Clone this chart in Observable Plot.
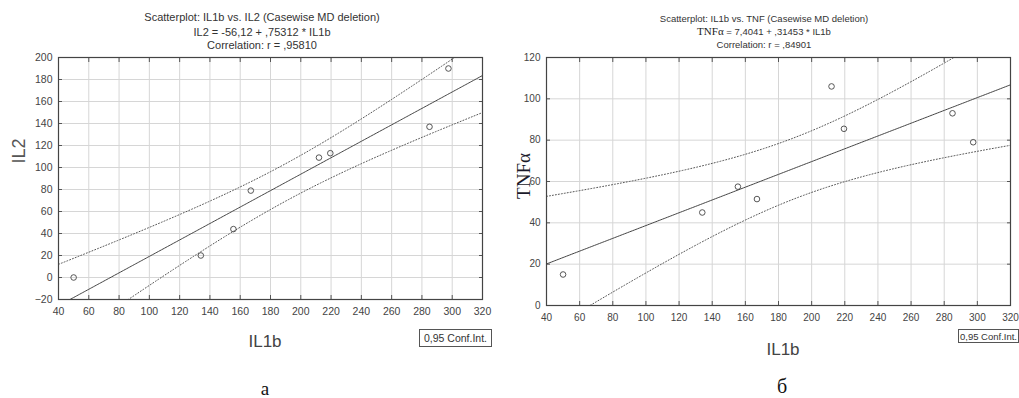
<!DOCTYPE html>
<html>
<head>
<meta charset="utf-8">
<script src="https://cdn.jsdelivr.net/npm/d3@7"></script>
<script src="https://cdn.jsdelivr.net/npm/@observablehq/plot@0.6"></script>
<style>
  html, body { margin: 0; padding: 0; background: #fff; }
  #root { position: relative; width: 1019px; height: 398px; overflow: hidden; background: #fff;
          font-family: "Liberation Sans", Arial, sans-serif; color: #333; }
  .abs { position: absolute; white-space: nowrap; }
  .ctr { transform: translate(-50%, -50%); }
  .legend { position: absolute; border: 1px solid #555; background: #fff; color: #333;
            display: flex; align-items: center; justify-content: center; box-sizing: border-box; }
  .serif { font-family: "Liberation Serif", "Times New Roman", serif; }
</style>
</head>
<body>
<div id="root"></div>
<script>
// ---- data ----
const il1b = [50, 134, 155.5, 167, 212, 219.5, 285, 297.5];
const il2  = [0, 20, 44, 79, 109, 113, 137, 190];
const tnf  = [15, 45, 57.5, 51.5, 106, 85.5, 93, 79];

const xTicks   = [40, 60, 80, 100, 120, 140, 160, 180, 200, 220, 240, 260, 280, 300, 320];
const il2Ticks = [-20, 0, 20, 40, 60, 80, 100, 120, 140, 160, 180, 200];
const tnfTicks = [0, 20, 40, 60, 80, 100, 120];

const titleA = ["Scatterplot: IL1b vs. IL2 (Casewise MD deletion)", "IL2 = -56,12 + ,75312 * IL1b", "Correlation: r = ,95810"];
const titleB = ["Scatterplot: IL1b vs. TNF (Casewise MD deletion)", "= 7,4041 + ,31453 * IL1b", "Correlation: r = ,84901"];
const legendText = "0,95 Conf.Int.";

// ---- regression with 95% confidence band (computed from the data) ----
function regression(xs, ys, x0, x1) {
  const n = xs.length;
  const mx = d3.mean(xs), my = d3.mean(ys);
  let sxx = 0, sxy = 0;
  for (let i = 0; i < n; i++) { sxx += (xs[i] - mx) ** 2; sxy += (xs[i] - mx) * (ys[i] - my); }
  const b = sxy / sxx, a = my - b * mx;
  let sse = 0;
  for (let i = 0; i < n; i++) sse += (ys[i] - (a + b * xs[i])) ** 2;
  const s = Math.sqrt(sse / (n - 2));
  const t = 2.446912; // t(0.975, df = 6)
  const rows = [];
  for (let x = x0; x <= x1 + 1e-9; x += 1) {
    const yhat = a + b * x;
    const h = t * s * Math.sqrt(1 / n + (x - mx) ** 2 / sxx);
    rows.push({x, yhat, lo: yhat - h, hi: yhat + h});
  }
  return rows;
}

function chart(ys, yTicks, yDomain, opts) {
  const pts = il1b.map((x, i) => ({x, y: ys[i]}));
  const reg = regression(il1b, ys, 40, 320);
  return Plot.plot({
    width: opts.width, height: opts.height,
    marginLeft: opts.ml, marginRight: opts.mr, marginTop: 10, marginBottom: opts.mb,
    style: {fontFamily: "Liberation Sans, Arial, sans-serif", fontSize: opts.fs + "px", color: "#444", background: "transparent", overflow: "visible"},
    x: {domain: [40, 320], ticks: xTicks},
    y: {domain: yDomain, ticks: yTicks},
    marks: [
      Plot.gridX(xTicks, {stroke: "#d6d6d6", strokeOpacity: 1}),
      Plot.gridY(yTicks, {stroke: "#d6d6d6", strokeOpacity: 1}),
      Plot.line(reg, {x: "x", y: "hi", stroke: "#555", strokeWidth: 1, strokeDasharray: "1,2", clip: true}),
      Plot.line(reg, {x: "x", y: "lo", stroke: "#555", strokeWidth: 1, strokeDasharray: "1,2", clip: true}),
      Plot.line(reg, {x: "x", y: "yhat", stroke: "#444", strokeWidth: 1, clip: true}),
      Plot.dot(pts, {x: "x", y: "y", r: 2.8, stroke: "#444", strokeWidth: 0.9, fill: "none"}),
      Plot.axisX(xTicks, {anchor: "bottom", tickSize: -4, tickPadding: 12, label: null, stroke: "#555"}),
      Plot.axisX(xTicks, {anchor: "top", tickSize: -4, tickFormat: () => "", label: null, stroke: "#555"}),
      Plot.axisY(yTicks, {anchor: "left", tickSize: -4, tickPadding: 10, label: null, stroke: "#555"}),
      Plot.axisY(yTicks, {anchor: "right", tickSize: -4, tickFormat: () => "", label: null, stroke: "#555"}),
      Plot.frame({stroke: "#444", strokeWidth: 1.2})
    ]
  });
}

const root = document.getElementById("root");
function place(el, left, top) {
  el.style.position = "absolute"; el.style.left = left + "px"; el.style.top = top + "px";
  root.appendChild(el);
}
function text(str, x, y, size, extra) {
  const d = document.createElement("div");
  d.className = "abs ctr" + (extra && extra.cls ? " " + extra.cls : "");
  d.style.left = x + "px"; d.style.top = y + "px"; d.style.fontSize = size + "px";
  if (extra && extra.color) d.style.color = extra.color;
  if (extra && extra.rotate) d.style.transform = "translate(-50%, -50%) rotate(-90deg)";
  if (extra && extra.html) d.innerHTML = str; else d.textContent = str;
  root.appendChild(d);
  return d;
}
function legend(x, y, w, h, size) {
  const d = document.createElement("div");
  d.className = "legend";
  d.style.left = x + "px"; d.style.top = y + "px"; d.style.width = w + "px"; d.style.height = h + "px";
  d.style.fontSize = size + "px";
  d.textContent = legendText;
  root.appendChild(d);
}

// ---- chart a ----
const a = chart(il2, il2Ticks, [-20, 200], {width: 505, height: 277, ml: 58, mr: 23, mb: 25, fs: 10.5});
place(a, 0, 47);
text(titleA[0], 262, 17, 11);
text(titleA[1], 262, 32, 11);
text(titleA[2], 262, 45, 11);
text("IL2", 19, 151, 18, {rotate: true, color: "#555"});
text("IL1b", 265, 342, 17, {color: "#444"});
legend(419, 329, 73, 18, 10.5);
text("a", 265, 389, 19, {cls: "serif", color: "#111"});

// ---- chart б ----
const b = chart(tnf, tnfTicks, [0, 120], {width: 514, height: 283, ml: 41, mr: 9, mb: 25, fs: 10});
place(b, 505, 47);
text(titleB[0], 764, 18, 9.5);
text('<span class="serif" style="font-size:11px;color:#222">TNFα</span> ' + titleB[1], 764, 31, 9.5, {html: true});
text(titleB[2], 764, 44, 9.5);
text("TNFα", 524, 176, 19, {cls: "serif", rotate: true, color: "#1a1a2a"});
text("IL1b", 783, 350, 17, {color: "#444"});
legend(958, 329, 61, 14, 9.5);
text("б", 782, 386, 20, {cls: "serif", color: "#111"});
</script>
</body>
</html>
